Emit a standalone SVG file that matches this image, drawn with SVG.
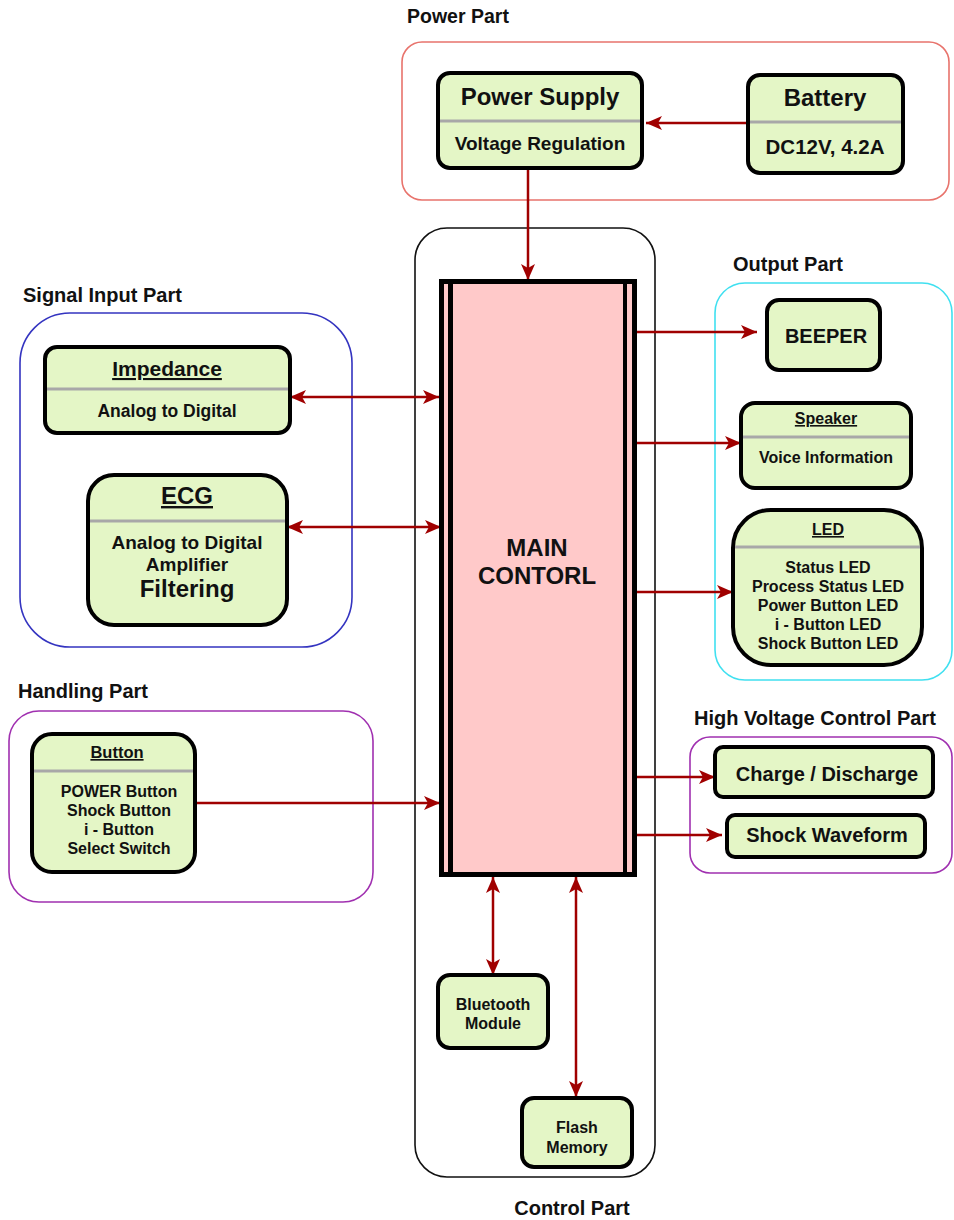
<svg xmlns="http://www.w3.org/2000/svg" width="954" height="1220" viewBox="0 0 954 1220">
<style>
text{font-family:"Liberation Sans",Arial,sans-serif;font-weight:bold;fill:#111;}
.c{text-anchor:middle;}
.u{text-decoration:underline;}
.box{fill:#e4f6c6;stroke:#000;stroke-width:4;}
.div{stroke:#a8a8a8;stroke-width:3;}
.grp{fill:none;stroke-width:1.6;}
.con{fill:none;stroke:#a00000;stroke-width:2.5;}
</style>
<defs>
<marker id="ah" markerUnits="userSpaceOnUse" viewBox="0 0 16 14" refX="16" refY="7" markerWidth="16" markerHeight="14" orient="auto-start-reverse">
<path d="M0,0 L16,7 L0,14 L4,7 z" fill="#a00000"/>
</marker>
</defs>
<rect width="954" height="1220" fill="#fff"/>

<g id="groups">
<rect class="grp" x="402" y="42" width="547" height="158" rx="20" stroke="#e8736c"/>
<rect class="grp" x="415" y="228" width="240" height="949" rx="32" stroke="#111"/>
<rect class="grp" x="20" y="313" width="332" height="334" rx="50" stroke="#3434c0"/>
<rect class="grp" x="715" y="283" width="237" height="397" rx="30" stroke="#40e0f0"/>
<rect class="grp" x="9" y="711" width="364" height="191" rx="30" stroke="#a030b0"/>
<rect class="grp" x="690" y="737" width="262" height="136" rx="20" stroke="#a030b0"/>
<text x="407" y="23" font-size="19.5">Power Part</text>
<text x="23" y="302" font-size="20">Signal Input Part</text>
<text x="733" y="271" font-size="20">Output Part</text>
<text x="18" y="698" font-size="20">Handling Part</text>
<text x="694" y="725" font-size="20">High Voltage Control Part</text>
<text class="c" x="572" y="1215" font-size="20">Control Part</text>
</g>

<g id="connectors">
<line class="con" x1="748" y1="123" x2="646" y2="123" marker-end="url(#ah)"/>
<line class="con" x1="528" y1="168" x2="528" y2="280" marker-end="url(#ah)"/>
<line class="con" x1="290" y1="397" x2="439" y2="397" marker-start="url(#ah)" marker-end="url(#ah)"/>
<line class="con" x1="287" y1="527" x2="441" y2="527" marker-start="url(#ah)" marker-end="url(#ah)"/>
<line class="con" x1="195" y1="803" x2="440" y2="803" marker-end="url(#ah)"/>
<line class="con" x1="637" y1="332" x2="757" y2="332" marker-end="url(#ah)"/>
<line class="con" x1="637" y1="443" x2="741" y2="443" marker-end="url(#ah)"/>
<line class="con" x1="637" y1="592" x2="733" y2="592" marker-end="url(#ah)"/>
<line class="con" x1="637" y1="777" x2="715" y2="777" marker-end="url(#ah)"/>
<line class="con" x1="637" y1="835" x2="722" y2="835" marker-end="url(#ah)"/>
<line class="con" x1="493" y1="877" x2="493" y2="975" marker-start="url(#ah)" marker-end="url(#ah)"/>
<line class="con" x1="576" y1="877" x2="576" y2="1097" marker-start="url(#ah)" marker-end="url(#ah)"/>
</g>

<g id="main-control">
<rect x="441.5" y="281.5" width="193" height="593" fill="#ffc9c9" stroke="#000" stroke-width="5"/>
<line x1="450.5" y1="282" x2="450.5" y2="874" stroke="#000" stroke-width="5"/>
<line x1="625" y1="282" x2="625" y2="874" stroke="#000" stroke-width="4"/>
<text class="c" x="537" y="556" font-size="24">MAIN</text>
<text class="c" x="537" y="584" font-size="24">CONTORL</text>
</g>

<g id="power-supply">
<rect class="box" x="438" y="73" width="204" height="95" rx="12"/>
<line class="div" x1="440" y1="121" x2="640" y2="121"/>
<text class="c" x="540" y="105" font-size="24">Power Supply</text>
<text class="c" x="540" y="150" font-size="19">Voltage Regulation</text>
</g>

<g id="battery">
<rect class="box" x="748" y="75" width="155" height="98" rx="12"/>
<line class="div" x1="750" y1="122" x2="901" y2="122"/>
<text class="c" x="825" y="106" font-size="24">Battery</text>
<text class="c" x="825" y="154" font-size="20.5">DC12V, 4.2A</text>
</g>

<g id="impedance">
<rect class="box" x="45" y="347" width="245" height="86" rx="12"/>
<line class="div" x1="47" y1="389" x2="288" y2="389"/>
<text class="c u" x="167" y="376" font-size="21">Impedance</text>
<text class="c" x="167" y="417" font-size="17.5">Analog to Digital</text>
</g>

<g id="ecg">
<rect class="box" x="88" y="475" width="199" height="150" rx="26"/>
<line class="div" x1="90" y1="521" x2="285" y2="521"/>
<text class="c u" x="187" y="504" font-size="24">ECG</text>
<text class="c" x="187" y="549" font-size="19">Analog to Digital</text>
<text class="c" x="187" y="571" font-size="19">Amplifier</text>
<text class="c" x="187" y="597" font-size="24">Filtering</text>
</g>

<g id="beeper">
<rect class="box" x="767" y="300" width="113" height="70" rx="12"/>
<text class="c" x="826" y="343" font-size="20">BEEPER</text>
</g>

<g id="speaker">
<rect class="box" x="741" y="403" width="170" height="85" rx="14"/>
<line class="div" x1="743" y1="437" x2="909" y2="437"/>
<text class="c u" x="826" y="424" font-size="16">Speaker</text>
<text class="c" x="826" y="463" font-size="16">Voice Information</text>
</g>

<g id="led">
<rect class="box" x="733" y="510" width="189" height="155" rx="38"/>
<line class="div" x1="735" y1="547" x2="920" y2="547"/>
<text class="c u" x="828" y="535" font-size="16">LED</text>
<text class="c" x="828" y="573" font-size="16">Status LED</text>
<text class="c" x="828" y="592" font-size="16">Process Status LED</text>
<text class="c" x="828" y="611" font-size="16">Power Button LED</text>
<text class="c" x="828" y="630" font-size="16">i - Button LED</text>
<text class="c" x="828" y="649" font-size="16">Shock Button LED</text>
</g>

<g id="button">
<rect class="box" x="32" y="734" width="163" height="138" rx="20"/>
<line class="div" x1="34" y1="771" x2="193" y2="771"/>
<text class="c u" x="117" y="758" font-size="16.5">Button</text>
<text class="c" x="119" y="797" font-size="16">POWER Button</text>
<text class="c" x="119" y="816" font-size="16">Shock Button</text>
<text class="c" x="119" y="835" font-size="16">i - Button</text>
<text class="c" x="119" y="854" font-size="16">Select Switch</text>
</g>

<g id="charge-discharge">
<rect class="box" x="715" y="747" width="218" height="50" rx="8"/>
<text class="c" x="827" y="781" font-size="20">Charge / Discharge</text>
</g>

<g id="shock-waveform">
<rect class="box" x="727" y="815" width="198" height="42" rx="8"/>
<text class="c" x="827" y="842" font-size="20">Shock Waveform</text>
</g>

<g id="bluetooth">
<rect class="box" x="438" y="975" width="110" height="73" rx="12"/>
<text class="c" x="493" y="1010" font-size="16">Bluetooth</text>
<text class="c" x="493" y="1029" font-size="16">Module</text>
</g>

<g id="flash">
<rect class="box" x="522" y="1098" width="110" height="69" rx="12"/>
<text class="c" x="577" y="1133" font-size="16">Flash</text>
<text class="c" x="577" y="1153" font-size="16">Memory</text>
</g>
</svg>
